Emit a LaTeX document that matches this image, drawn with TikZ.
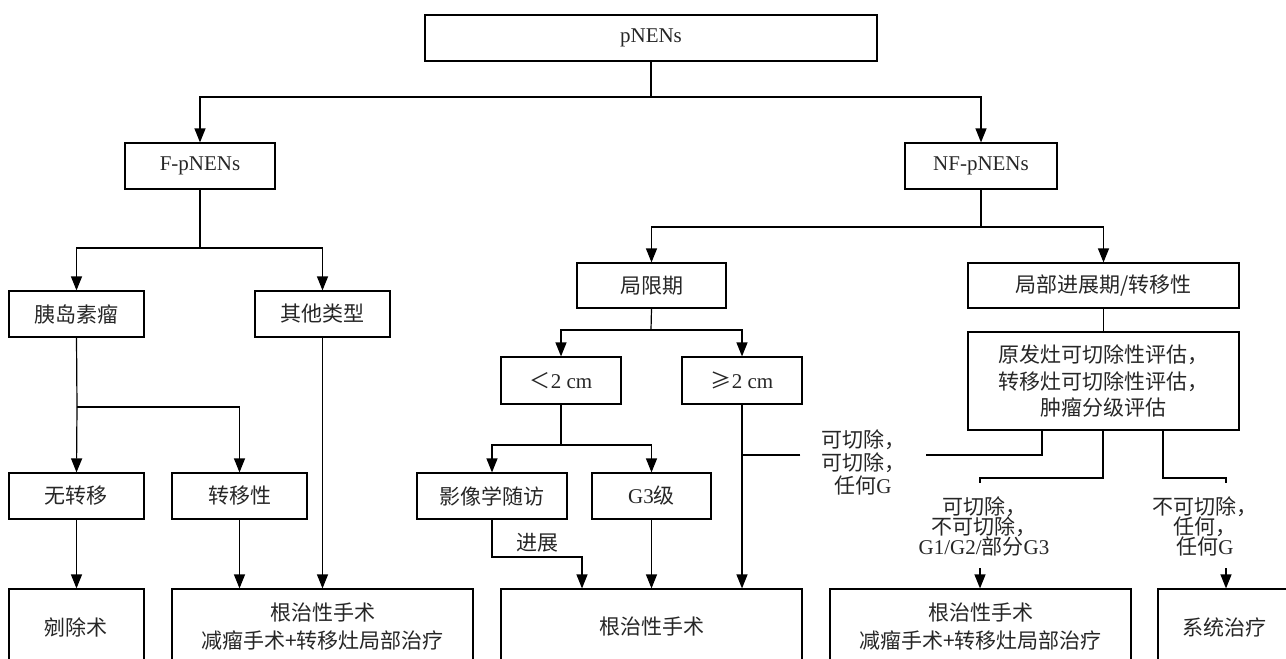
\documentclass[tikz,border=0pt]{standalone}
\usepackage{fontspec}
\setmainfont{Liberation Serif}
\newfontfamily\cjk{Noto Sans CJK SC}
\usetikzlibrary{arrows.meta}
\newcommand\zh[1]{{\cjk #1}}
\newcommand\tightfont{\fontsize{10.5pt}{10pt}\selectfont\lineskiplimit=-10pt\relax}
\newcommand\bx[7][]{\node[box,#1,minimum width={(#5-#3)*0.5pt},minimum height={(#6-#4)*0.5pt}] (#2) at ({(#3+#5)/2},{(#4+#6)/2}) {#7};}
\begin{document}
\begin{tikzpicture}[x=0.5pt,y=-0.5pt,line width=0.6pt,
  box/.style={draw,inner sep=0pt,align=center,text=black!85,font=\fontsize{10.5pt}{14pt}\selectfont},
  lab/.style={inner sep=0pt,align=center,text=black!85},
  arr/.style={-{Triangle[length=7pt,width=5.5pt]}}]
\useasboundingbox (0,0) rectangle (1286,659);
\clip (0,0) rectangle (1286,659);
% boxes
\bx{top}{425}{15}{877}{61}{pNENs}
\bx{F}{125}{143}{275}{189}{F-pNENs}
\bx{NF}{905}{143}{1057}{189}{NF-pNENs}
\bx{yd}{9}{291}{144}{337}{\zh{胰岛素瘤}}
\bx{qt}{255}{291}{390}{337}{\zh{其他类型}}
\bx{wzy}{9}{473}{144}{519}{\zh{无转移}}
\bx{zyx}{172}{473}{307}{519}{\zh{转移性}}
\bx{b1}{9}{589}{144}{665}{\zh{剜除术}}
\bx{b2}{172}{589}{473}{665}{\zh{根治性手术}\\\zh{减瘤手术+转移灶局部治疗}}
\bx{jx}{577}{263}{726}{308}{\zh{局限期}}
\bx{jb}{968}{263}{1239}{308}{\zh{局部进展期/转移性}}
\bx{s2}{501}{357}{621}{404}{\zh{＜}2 cm}
\bx{g2}{682}{357}{802}{404}{\zh{≥}2 cm}
\bx{yx}{417}{473}{567}{519}{\zh{影像学随访}}
\bx{g3}{592}{473}{711}{519}{G3\zh{级}}
\bx{m}{501}{589}{802}{665}{\zh{根治性手术}}
\bx[font=\fontsize{10.5pt}{13.3pt}\selectfont]{ev}{968}{332}{1239}{430}{\zh{原发灶可切除性评估，}\\\zh{转移灶可切除性评估，}\\\zh{肿瘤分级评估}}
\bx{m2}{830}{589}{1131}{665}{\zh{根治性手术}\\\zh{减瘤手术+转移灶局部治疗}}
\bx{st}{1158}{589}{1290}{665}{\zh{系统治疗}}
% labels
\node[lab,font=\fontsize{10.5pt}{11.5pt}\selectfont,minimum width=62pt] (l1) at (863,462) {\zh{可切除，}\\\zh{可切除，}\\\zh{任何}G};
\node[lab,font=\tightfont] (l2) at (984,526) {\zh{可切除，}\\\zh{不可切除，}\\G1/G2/\zh{部分}G3};
\node[lab,font=\tightfont] (l3) at (1205,526) {\zh{不可切除，}\\\zh{任何，}\\\zh{任何}G};
\node[lab,font=\fontsize{10.5pt}{12pt}\selectfont] (l4) at (537,543) {\zh{进展}};
% junction coordinates
\coordinate (c1) at (651,97);
\coordinate (c2) at (200,248);
\coordinate (c3) at (77,407);
\coordinate (c4) at (981,227);
\coordinate (c5) at (651,330);
\coordinate (c6) at (561,445);
\coordinate (c7) at (582,557);
\coordinate (c8) at (1042,455);
\coordinate (c9) at (1103,478);
\coordinate (c10) at (980,478);
\coordinate (c11) at (1163,478);
\coordinate (c12) at (1226,478);
\coordinate (a1) at (980,568);
\coordinate (a2) at (1226,568);
% connectors
\draw (top.south) -- (c1);
\draw[arr] (c1) -| (F.north);
\draw[arr] (c1) -| (NF.north);
\draw (F.south) -- (c2);
\draw[arr] (c2) -| (yd.north);
\draw[arr] (c2) -| (qt.north);
\draw (yd.south) -- (c3);
\draw[arr] (c3) -- (wzy.north);
\draw[arr] (c3) -| (zyx.north);
\draw[arr] (wzy.south) -- (b1.north);
\draw[arr] (zyx.south) -- (zyx.south |- b2.north);
\draw[arr] (qt.south) -- (qt.south |- b2.north);
\draw (NF.south) -- (c4);
\draw[arr] (c4) -| (jx.north);
\draw[arr] (c4) -| (jb.north);
\draw (jx.south) -- (c5);
\draw[arr] (c5) -| (s2.north);
\draw[arr] (c5) -| (g2.north);
\draw (s2.south) -- (c6);
\draw[arr] (c6) -| (yx.north);
\draw[arr] (c6) -| (g3.north);
\draw[arr] (yx.south) |- (c7) -- (c7 |- m.north);
\draw[arr] (g3.south) -- (g3.south |- m.north);
\draw[arr] (g2.south) -- (g2.south |- m.north);
\draw (jb.south) -- (ev.north);
\draw (ev.south -| c8) -- (c8) -- (l1.east |- c8);
\draw (l1.west |- c8) -- (g2.south |- c8);
\draw (ev.south -| c9) -- (c9) -- (c10) -- ++(0,5);
\draw (ev.south -| c11) -- (c11) -- (c12) -- ++(0,5);
\draw[arr] (a1) -- (a1 |- m2.north);
\draw[arr] (a2) -- (a2 |- st.north);
\end{tikzpicture}
\end{document}
